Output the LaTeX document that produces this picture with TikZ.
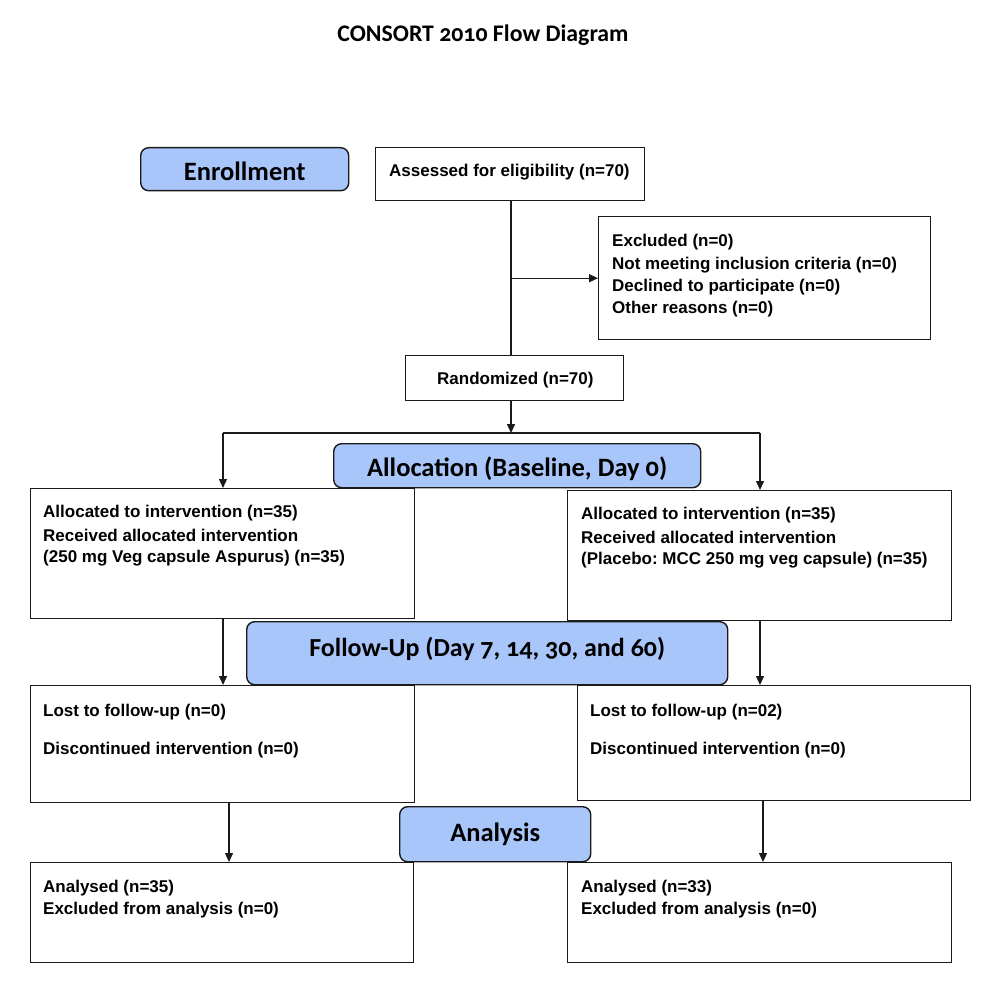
\documentclass[tikz,border=0pt]{standalone}
\usepackage{fontspec}
\setmainfont{Liberation Sans}
\newfontfamily\headfont{Carlito}[Numbers=OldStyle]
\usetikzlibrary{arrows.meta}
\definecolor{hdrblue}{HTML}{A9C6FA}
\definecolor{edge}{HTML}{1A1A1A}
\frenchspacing
\newcommand{\shiftv}[2]{\raisebox{#1}[\height][\depth]{#2}}
\begin{document}
\begin{tikzpicture}[x=1pt,y=-1pt,
 box/.style={draw=edge,line width=1.4pt,fill=white,inner sep=0,anchor=north west},
 hdr/.style={draw=edge,line width=1.4pt,fill=hdrblue,rounded corners=8pt,inner sep=0,anchor=north west,font=\headfont\bfseries\fontsize{26.5}{30}\selectfont},
 txt/.style={anchor=west,inner sep=0,font=\bfseries\fontsize{17}{20}\selectfont},
 arr/.style={draw=edge,line width=1.4pt,-{Triangle[length=9pt,width=8pt]}},
 ln/.style={draw=edge,line width=1.4pt}]
\useasboundingbox (0,0) rectangle (986,987);
\fill[white] (0,0) rectangle (986,987);

% title
\node[inner sep=0,font=\headfont\bfseries\fontsize{23.8}{27}\selectfont] (title) at (483,35) {CONSORT 2010 Flow Diagram};

% coordinates for connector lanes
\coordinate (trunk) at (511,433);
\coordinate (splitL) at (223,433);
\coordinate (splitR) at (760,433);
\coordinate (laneL) at (229,830);
\coordinate (laneR) at (763,830);

% boxes
\node[box,minimum width=269pt,minimum height=53pt] (assess) at (375,147) {};
\node[box,minimum width=332pt,minimum height=123pt] (excl) at (598,216) {};
\node[box,minimum width=218pt,minimum height=45pt] (rand) at (405,355) {};
\node[box,minimum width=384pt,minimum height=130pt] (allocL) at (30,488) {};
\node[box,minimum width=384pt,minimum height=130pt] (allocR) at (567,490) {};
\node[box,minimum width=384pt,minimum height=117pt] (lostL) at (30,685) {};
\node[box,minimum width=393pt,minimum height=115pt] (lostR) at (577,685) {};
\node[box,minimum width=383pt,minimum height=100pt] (analL) at (30,862) {};
\node[box,minimum width=384pt,minimum height=100pt] (analR) at (567,862) {};

% connectors
\draw[ln] (assess.south -| trunk) -- (rand.north -| trunk);
\draw[arr] (assess.south |- excl.west) -- (excl.west);
\draw[arr] (rand.south -| trunk) -- (trunk);
\draw[ln] (splitL) -- (splitR);
\draw[arr] (splitL) -- (splitL |- allocL.north);
\draw[arr] (splitR) -- (splitR |- allocR.north);
\draw[arr] (allocL.south -| splitL) -- (lostL.north -| splitL);
\draw[arr] (allocR.south -| splitR) -- (lostR.north -| splitR);
\draw[arr] (lostL.south -| laneL) -- (analL.north -| laneL);
\draw[arr] (lostR.south -| laneR) -- (analR.north -| laneR);

% section headers
\node[hdr,minimum width=208pt,minimum height=43pt] (enroll) at (140,147) {\shiftv{-2pt}{Enrollment}};
\node[hdr,minimum width=367pt,minimum height=44pt] (alloc) at (333,443) {\shiftv{-3pt}{Allocation (Baseline, Day 0)}};
\node[hdr,minimum width=481pt,minimum height=63pt,font=\headfont\bfseries\fontsize{26}{30}\selectfont] (follow) at (246,621) {\shiftv{4pt}{Follow-Up (Day 7, 14, 30, and 60)}};
\node[hdr,minimum width=191pt,minimum height=55pt] (analysis) at (399,806) {Analysis};

% texts
\node[txt] (t0) at (389,172.5) {Assessed for eligibility (n=70)};
\node[txt] (t1) at (612,242) {Excluded (n=0)};
\node[txt] (t2) at (612,265) {Not meeting inclusion criteria (n=0)};
\node[txt] (t3) at (612,287) {Declined to participate (n=0)};
\node[txt] (t4) at (612,309) {Other reasons (n=0)};
\node[txt] (t5) at (437,380) {Randomized (n=70)};
\node[txt] (t6) at (43,513) {Allocated to intervention (n=35)};
\node[txt] (t7) at (43,535) {Received allocated intervention};
\node[txt] (t8) at (43,558) {(250 mg Veg capsule Aspurus) (n=35)};
\node[txt] (t9) at (581,515) {Allocated to intervention (n=35)};
\node[txt] (t10) at (581,537) {Received allocated intervention};
\node[txt] (t11) at (581,560) {(Placebo: MCC 250 mg veg capsule) (n=35)};
\node[txt] (t12) at (43,712) {Lost to follow-up (n=0)};
\node[txt] (t13) at (43,750) {Discontinued intervention (n=0)};
\node[txt] (t14) at (590,712) {Lost to follow-up (n=02)};
\node[txt] (t15) at (590,750) {Discontinued intervention (n=0)};
\node[txt] (t16) at (43,888) {Analysed (n=35)};
\node[txt] (t17) at (43,910) {Excluded from analysis (n=0)};
\node[txt] (t18) at (581,888) {Analysed (n=33)};
\node[txt] (t19) at (581,910) {Excluded from analysis (n=0)};
\end{tikzpicture}
\end{document}
